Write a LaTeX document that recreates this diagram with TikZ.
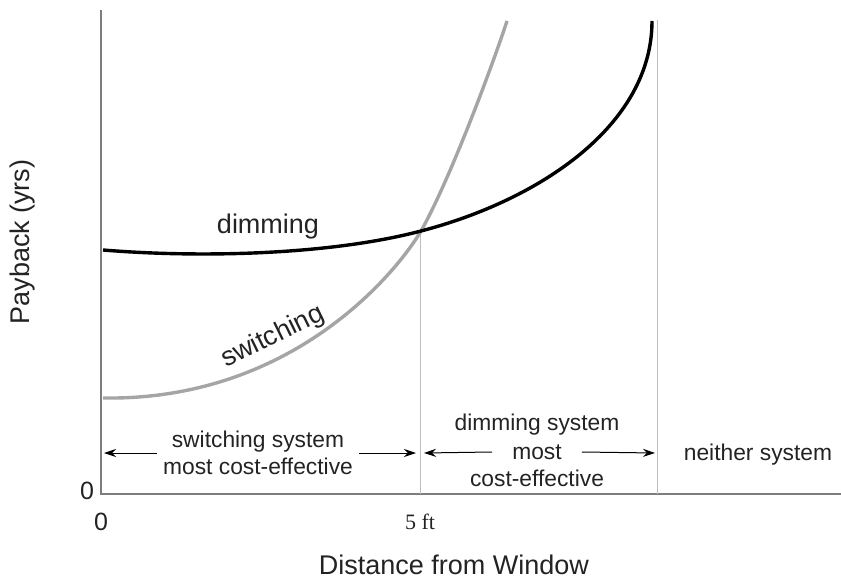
\documentclass[tikz,border=0pt]{standalone}
\usepackage{fontspec}
\setmainfont{Liberation Sans}
\newfontfamily\numfont{Liberation Serif}
\usepackage{xcolor}
\usetikzlibrary{arrows.meta}

\definecolor{axisgray}{RGB}{125,125,125}
\definecolor{linegray}{RGB}{190,190,190}
\definecolor{switchgray}{RGB}{165,165,165}
\definecolor{textgray}{RGB}{35,35,35}

\tikzset{
    lbl/.style={font=\fontsize{22.8}{27}\selectfont, text=textgray, align=center, inner sep=0pt},
    axlbl/.style={font=\fontsize{27}{31}\selectfont, text=textgray, inner sep=0pt},
    span/.style={line width=1pt, arrows = {-Stealth[length=12pt,width=8pt]}},
}

\begin{document}
\begin{tikzpicture}[x=1pt,y=-1pt]
                \useasboundingbox (0,0) rectangle (841,580);

                \draw[line width=1.5pt, axisgray] (101,10) -- (101,494) -- (841,494);
                \draw[line width=1pt, linegray] (420,231) -- (420,494);
                \draw[line width=1pt, linegray] (657,20) -- (657,494);

                \coordinate (cross) at (421,231);
                \draw[line width=3.4pt, switchgray] (103,398) .. controls (290,401) and (395,275) .. (cross) .. controls (451,178) and (495,58) .. (507,21);
                \draw[line width=3.4pt, black] (103,250) .. controls (200,258) and (330,255) .. (cross) .. controls (540,200) and (652,125) .. (652,21);

                \node[axlbl] (dim) at (268,227) {dimming};
                \node[axlbl, rotate=26] (sw) at (273,337) {switching};

                \node[axlbl, rotate=90] (ylab) at (23,242) {Payback (yrs)};
                \node[axlbl] (xlab) at (454,565) {Distance from Window};
                \node[lbl, font=\fontsize{25}{29}\selectfont] (yzero) at (87,491) {0};
                \node[lbl, font=\fontsize{25}{29}\selectfont] (xzero) at (101,522) {0};
                \node[lbl, font=\fontsize{22}{26}\numfont] (five) at (420,522) {5 ft};

                % cost-effective regions
                \node[lbl, inner xsep=6pt] (swreg) at (258,453) {switching system\\most cost-effective};
                \node[lbl] (dimtop) at (537,425) {dimming system};
                \node[lbl, inner xsep=20pt] (dimmost) at (537,452) {most};
                \node[lbl] (dimbot) at (537,478) {cost-effective};
                \node[lbl] (neither) at (758,455) {neither system};

                \coordinate (swl) at (104,453);
                \coordinate (swr) at (416,453);
                \coordinate (dml) at (424,453);
                \coordinate (dmr) at (655,453);

                \draw[span] (swreg.west) -- (swl);
                \draw[span] (swreg.east) -- (swr);
                \draw[span] (dimmost.west) -- (dml);
                \draw[span] (dimmost.east) -- (dmr);

\end{tikzpicture}
\end{document}
